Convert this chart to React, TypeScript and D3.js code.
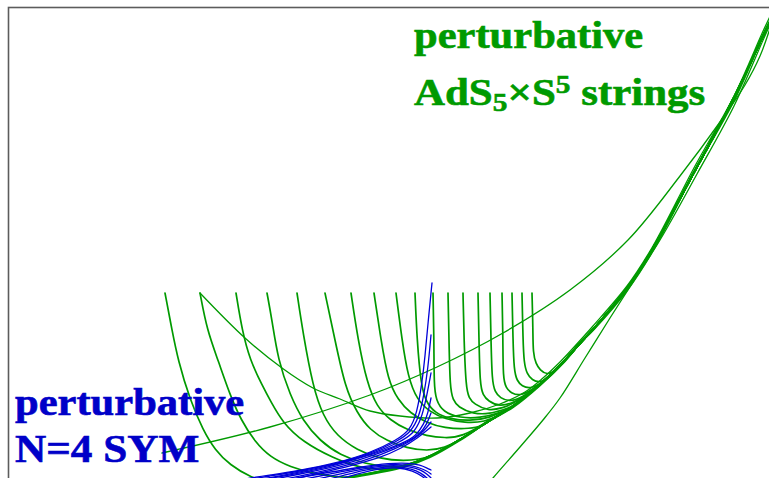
import React from "react";
import * as d3 from "d3";

type Pt = [number, number];

const W = 769;
const H = 478;

// coupling (x) vs energy (y)
const envelope: Pt[] = [
  [2.41, -0.14], [2.91, -0.08], [3.38, 0], [3.94, 0.11], [4.21, 0.21], [4.51, 0.38],
  [4.78, 0.56], [5.04, 0.71], [5.31, 0.93], [5.54, 1.15], [5.71, 1.35], [5.84, 1.48],
  [6.18, 1.88], [6.44, 2.28], [6.86, 3.08], [7.25, 3.78], [7.55, 4.45], [7.66, 4.66],
];

const lowerBranch: Pt[] = [
  [4.76, -0.1], [4.84, 0], [5.11, 0.31], [5.34, 0.58], [5.51, 0.8], [5.76, 1.2],
  [6.01, 1.6], [6.26, 1.99], [6.51, 2.38], [6.88, 3.04], [7.25, 3.72], [7.55, 4.4], [7.66, 4.64],
];

const upperBranch: Pt[] = [
  [1.53, 0.25], [2.61, 0.51], [3.61, 0.83], [4.28, 1.11], [4.94, 1.45], [5.61, 1.88],
  [6.19, 2.38], [6.71, 3.02], [7.11, 3.56], [7.36, 3.93], [7.51, 4.22], [7.63, 4.56],
];

const bowl: Pt[] = [
  [1.91, 1.85], [2.36, 1.4], [2.73, 1.1], [3.04, 0.9], [3.31, 0.79], [3.61, 0.67],
  [3.91, 0.62], [4.28, 0.6], [4.61, 0.65], [4.91, 0.74], [5.16, 0.86], [5.34, 1.0],
  [5.51, 1.16], [5.66, 1.32], [5.84, 1.52], [6.18, 1.92], [6.44, 2.32], [6.86, 3.12],
  [7.25, 3.82], [7.55, 4.49], [7.66, 4.72],
];

// states that drop in from the top and run into the envelope
const towers: Pt[][] = [
  [[1.56, 1.85], [1.63, 1.48], [1.69, 1.18], [1.81, 0.78], [1.94, 0.48], [2.06, 0.28], [2.21, 0.13], [2.41, 0.01], [2.66, -0.08]],
  [[1.91, 1.85], [1.98, 1.48], [2.09, 1.18], [2.21, 0.83], [2.32, 0.58], [2.46, 0.36], [2.61, 0.21], [2.81, 0.11], [3.06, 0.04], [3.31, 0.01]],
  [[2.27, 1.85], [2.33, 1.48], [2.41, 1.18], [2.53, 0.93], [2.62, 0.76], [2.74, 0.55], [2.94, 0.36], [3.24, 0.2], [3.51, 0.1], [3.74, 0.08]],
  [[2.58, 1.85], [2.63, 1.58], [2.69, 1.18], [2.81, 0.83], [2.94, 0.57], [3.11, 0.37], [3.31, 0.23], [3.56, 0.14], [3.81, 0.11]],
  [[2.88, 1.85], [2.94, 1.45], [3.04, 0.91], [3.14, 0.62], [3.28, 0.42], [3.48, 0.28], [3.71, 0.19], [3.96, 0.17], [4.11, 0.19]],
  [[3.16, 1.85], [3.26, 1.38], [3.36, 0.91], [3.48, 0.65], [3.61, 0.48], [3.78, 0.37], [3.98, 0.3], [4.18, 0.27], [4.36, 0.3]],
  [[3.42, 1.85], [3.49, 1.38], [3.58, 0.95], [3.68, 0.71], [3.81, 0.58], [3.98, 0.48], [4.18, 0.42], [4.36, 0.4], [4.53, 0.41]],
  [[3.65, 1.85], [3.72, 1.38], [3.79, 0.98], [3.89, 0.78], [4.01, 0.65], [4.18, 0.55], [4.36, 0.5], [4.56, 0.49], [4.71, 0.51]],
  [[3.87, 1.85], [3.93, 1.38], [3.99, 1.01], [4.08, 0.78], [4.21, 0.66], [4.36, 0.59], [4.56, 0.55], [4.76, 0.56], [4.91, 0.63]],
  [[4.06, 1.85], [4.08, 1.38], [4.12, 0.93], [4.17, 0.76], [4.26, 0.65], [4.41, 0.59], [4.61, 0.57], [4.81, 0.6], [4.96, 0.68]],
  [[4.24, 1.85], [4.25, 1.38], [4.25, 0.93], [4.27, 0.78], [4.34, 0.66], [4.51, 0.6], [4.71, 0.6], [4.91, 0.65]],
  [[4.39, 1.85], [4.4, 1.38], [4.41, 0.9], [4.44, 0.78], [4.49, 0.71], [4.64, 0.64], [4.81, 0.64], [4.96, 0.69]],
  [[4.54, 1.85], [4.55, 1.38], [4.57, 0.9], [4.6, 0.8], [4.65, 0.74], [4.79, 0.67], [4.94, 0.7], [5.06, 0.75]],
  [[4.69, 1.85], [4.7, 1.38], [4.71, 0.93], [4.74, 0.83], [4.79, 0.77], [4.91, 0.71], [5.06, 0.76], [5.19, 0.84]],
  [[4.81, 1.85], [4.82, 1.38], [4.83, 0.97], [4.86, 0.86], [4.91, 0.8], [5.01, 0.76], [5.14, 0.81], [5.26, 0.9]],
  [[4.93, 1.85], [4.94, 1.38], [4.94, 1.0], [4.97, 0.9], [5.02, 0.85], [5.11, 0.82], [5.23, 0.88], [5.36, 0.98]],
  [[5.03, 1.85], [5.04, 1.38], [5.05, 1.08], [5.08, 0.97], [5.13, 0.92], [5.21, 0.89], [5.33, 0.95], [5.44, 1.06]],
  [[5.13, 1.85], [5.14, 1.38], [5.15, 1.15], [5.18, 1.04], [5.23, 0.98], [5.31, 0.95], [5.41, 1.01], [5.51, 1.12]],
  [[5.23, 1.85], [5.24, 1.48], [5.24, 1.25], [5.27, 1.14], [5.31, 1.08], [5.38, 1.03], [5.46, 1.07], [5.56, 1.18]],
];

// gauge theory side
const blueRising: Pt[][] = [
  [[2.21, -0.04], [2.41, 0], [2.61, 0.03], [2.88, 0.07], [3.28, 0.15], [3.61, 0.25], [3.88, 0.38], [4.01, 0.48], [4.08, 0.65], [4.13, 0.95], [4.16, 1.21], [4.19, 1.55], [4.23, 1.95]],
  [[2.31, -0.03], [2.61, 0.02], [2.91, 0.07], [3.31, 0.15], [3.63, 0.25], [3.89, 0.37], [4.02, 0.46], [4.1, 0.61], [4.15, 0.83], [4.19, 1.1], [4.22, 1.43]],
  [[2.41, -0.03], [2.71, 0.02], [3.01, 0.08], [3.36, 0.16], [3.66, 0.25], [3.91, 0.36], [4.04, 0.44], [4.12, 0.58], [4.17, 0.78], [4.22, 1.05]],
  [[2.51, -0.02], [2.81, 0.03], [3.11, 0.09], [3.41, 0.17], [3.71, 0.26], [3.94, 0.35], [4.07, 0.42], [4.15, 0.54], [4.19, 0.65], [4.22, 0.8]],
  [[2.61, -0.02], [2.91, 0.04], [3.21, 0.1], [3.51, 0.18], [3.79, 0.28], [3.99, 0.36], [4.11, 0.44], [4.18, 0.54], [4.22, 0.65]],
  [[2.71, -0.02], [3.01, 0.04], [3.31, 0.11], [3.61, 0.19], [3.86, 0.29], [4.04, 0.38], [4.15, 0.47], [4.22, 0.56]],
  [[2.81, -0.02], [3.11, 0.05], [3.41, 0.12], [3.71, 0.2], [3.93, 0.3], [4.09, 0.4], [4.22, 0.51]],
];

const blueFalling: Pt[][] = [
  [[2.71, -0.03], [3.11, 0.04], [3.51, 0.11], [3.81, 0.15], [4.01, 0.15], [4.11, 0.13], [4.18, 0.1], [4.22, 0.08]],
  [[2.81, -0.04], [3.21, 0.04], [3.56, 0.11], [3.83, 0.14], [4.01, 0.13], [4.11, 0.1], [4.18, 0.07], [4.22, 0.04]],
  [[2.91, -0.05], [3.31, 0.04], [3.61, 0.11], [3.86, 0.13], [4.02, 0.11], [4.12, 0.08], [4.18, 0.04], [4.22, 0]],
  [[3.01, -0.06], [3.36, 0.03], [3.63, 0.1], [3.88, 0.12], [4.03, 0.09], [4.12, 0.05], [4.18, 0], [4.22, -0.04]],
  [[3.11, -0.07], [3.41, 0.02], [3.66, 0.09], [3.9, 0.11], [4.04, 0.07], [4.13, 0.02], [4.19, -0.03], [4.22, -0.08]],
];

const GREEN = "#009a00";
const BLUE = "#0000d8";
const FONT = "'Liberation Serif', 'Times New Roman', serif";

const App = () => {
  const x = d3.scaleLinear().domain([0, 7.6]).range([9, 769]);
  const y = d3.scaleLinear().domain([0, 4.7]).range([478, 8]);
  const smooth = d3
    .line<Pt>()
    .x((d) => x(d[0]))
    .y((d) => y(d[1]))
    .curve(d3.curveCatmullRom.alpha(0.5));
  const soft = d3
    .line<Pt>()
    .x((d) => x(d[0]))
    .y((d) => y(d[1]))
    .curve(d3.curveBasis);

  // each tower hands over to the envelope once it reaches it
  const withTail = (pts: Pt[]) => {
    const last = pts[pts.length - 1];
    return pts.concat(envelope.filter((p) => p[0] > last[0] + 0.04));
  };

  return (
    <svg
      width={W}
      height={H}
      style={{ position: "absolute", left: 0, top: 0, background: "#fff" }}
    >
      <defs>
        <clipPath id="plot">
          <rect x={9} y={8} width={W - 9} height={H - 8} />
        </clipPath>
      </defs>
      <rect x={8.5} y={7.5} width={900} height={600} fill="none" stroke="#5c5c5c" strokeWidth={1.6} />

      <g clipPath="url(#plot)" fill="none" strokeLinecap="round">
        <g stroke={GREEN}>
          {towers.map((t, i) => (
            <path key={"t" + i} d={soft(withTail(t)) || ""} strokeWidth={1.7} />
          ))}
          <path d={smooth(envelope) || ""} strokeWidth={2.4} />
          <path d={smooth(lowerBranch) || ""} strokeWidth={1.3} />
          <path d={smooth(upperBranch) || ""} strokeWidth={1.3} />
          <path d={smooth(bowl) || ""} strokeWidth={1.3} />
        </g>
        <g stroke={BLUE} strokeWidth={1.3}>
          {blueRising.map((b, i) => (
            <path key={"r" + i} d={soft(b) || ""} />
          ))}
          {blueFalling.map((b, i) => (
            <path key={"f" + i} d={soft(b) || ""} />
          ))}
        </g>
      </g>

      <g fontFamily={FONT} fontWeight="bold" fontSize={38} strokeWidth={0.6}>
        <g fill={GREEN} stroke={GREEN}>
          <text transform="translate(414,48) scale(1.12,1)">perturbative</text>
          <text transform="translate(414,105) scale(1.13,1)">
            AdS
            <tspan fontSize={26} dy={6}>5</tspan>
            <tspan dy={-6}>×S</tspan>
            <tspan fontSize={26} dy={-12}>5</tspan>
            <tspan dy={12}>{" strings"}</tspan>
          </text>
        </g>
        <g fill="#0000c8" stroke="#0000c8">
          <text transform="translate(15,415) scale(1.12,1)">perturbative</text>
          <text transform="translate(15,462) scale(1.08,1)" fontSize={40}>N=4 SYM</text>
        </g>
      </g>
    </svg>
  );
};

export default App;
